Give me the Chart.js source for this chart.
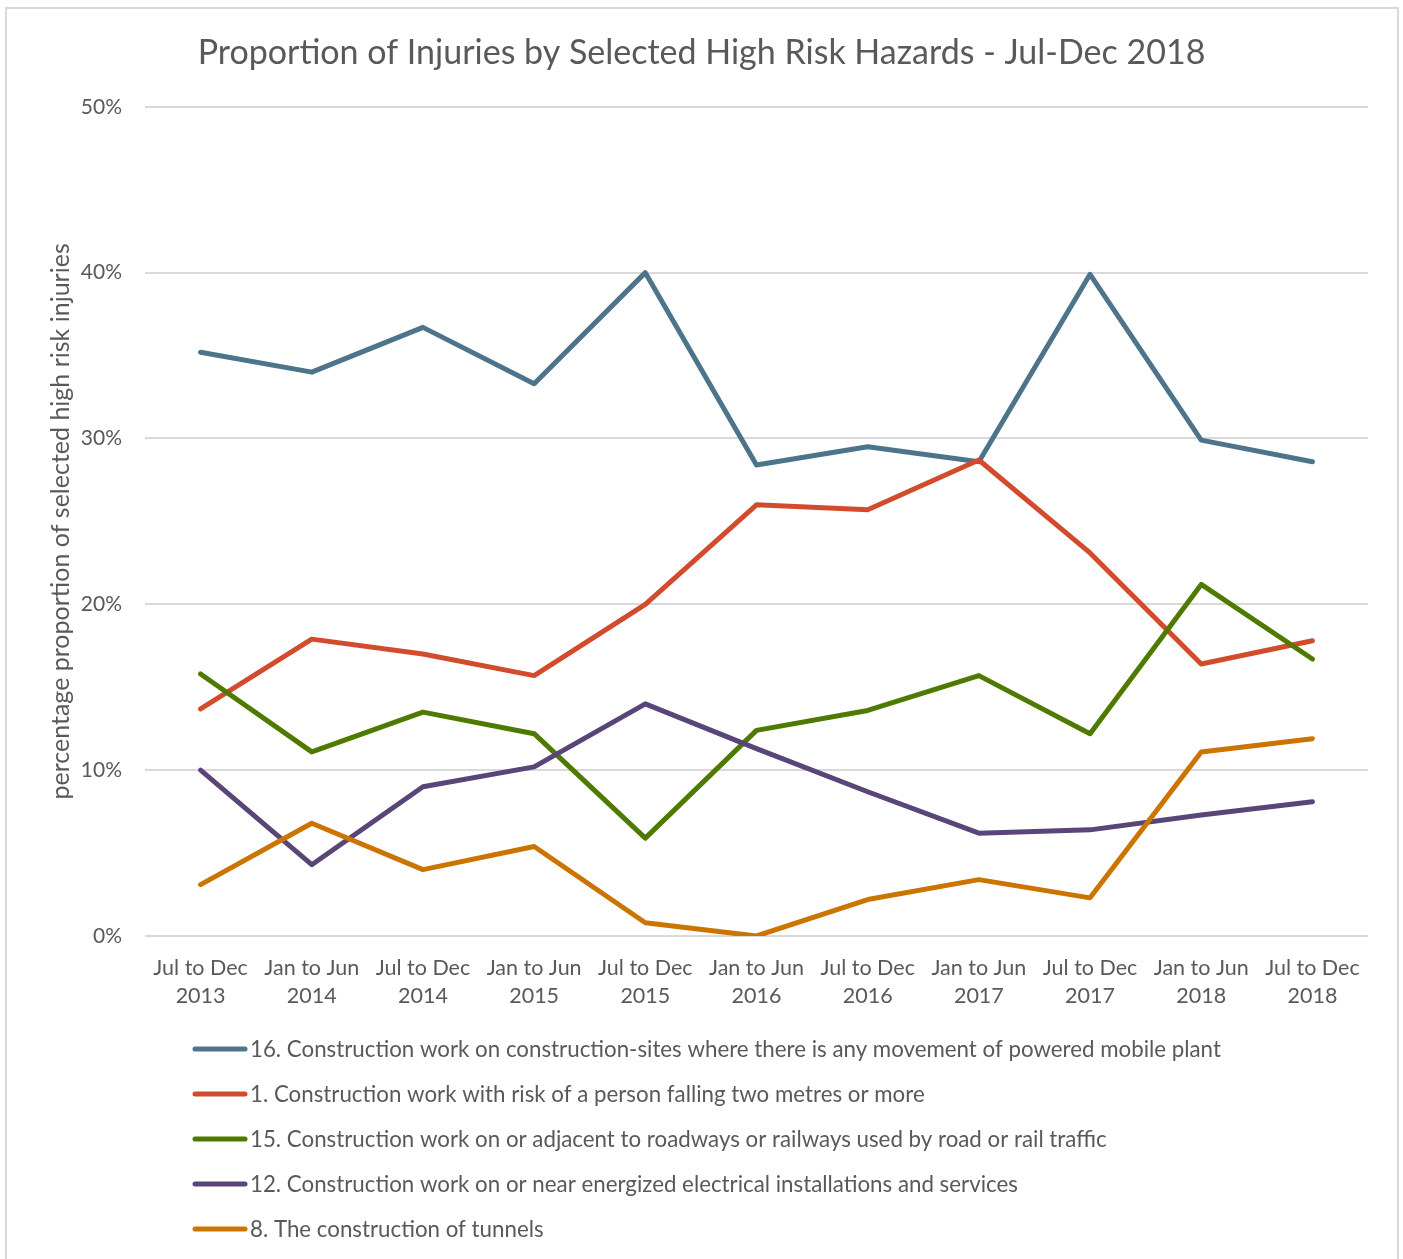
<!DOCTYPE html>
<html><head><meta charset="utf-8">
<script src="https://cdn.jsdelivr.net/npm/chart.js@4.4.0/dist/chart.umd.min.js"></script>
<style>html,body{margin:0;padding:0;background:#fff;overflow:hidden}</style>
</head><body>
<canvas id="c" width="1403" height="1259"></canvas>
<script>
const chartTitle = "Proportion of Injuries by Selected High Risk Hazards - Jul-Dec 2018";
const yAxisTitle = "percentage proportion of selected high risk injuries";
const categories = [
  ["Jul to Dec","2013"],["Jan to Jun","2014"],["Jul to Dec","2014"],["Jan to Jun","2015"],
  ["Jul to Dec","2015"],["Jan to Jun","2016"],["Jul to Dec","2016"],["Jan to Jun","2017"],
  ["Jul to Dec","2017"],["Jan to Jun","2018"],["Jul to Dec","2018"]
];
const yTicks = [0, 10, 20, 30, 40, 50];
const seriesNames = [
  "16. Construction work on construction-sites where there is any movement of powered mobile plant",
  "1. Construction work with risk of a person falling two metres or more",
  "15. Construction work on or adjacent to roadways or railways used by road or rail traffic",
  "12. Construction work on or near energized electrical installations and services",
  "8. The construction of tunnels"
];
const mobilePlant = [35.2, 34.0, 36.7, 33.3, 40.0, 28.4, 29.5, 28.6, 39.9, 29.9, 28.6];
const fallingTwoMetres = [13.7, 17.9, 17.0, 15.7, 20.0, 26.0, 25.7, 28.7, 23.1, 16.4, 17.8];
const roadwaysRailways = [15.8, 11.1, 13.5, 12.2, 5.9, 12.4, 13.6, 15.7, 12.2, 21.2, 16.7];
const electrical = [10.0, 4.3, 9.0, 10.2, 14.0, 11.3, 8.7, 6.2, 6.4, 7.3, 8.1];
const tunnels = [3.1, 6.8, 4.0, 5.4, 0.8, 0.0, 2.2, 3.4, 2.3, 11.1, 11.9];
const seriesColors = ["#4e748b", "#d24b2d", "#4f7a00", "#5a4579", "#cc7400"];

const FONT = "Lato";
const TEXT = "#595959";
const allSeries = [mobilePlant, fallingTwoMetres, roadwaysRailways, electrical, tunnels];

const frame = {
  id: 'frame',
  beforeDraw(chart) {
    const ctx = chart.ctx;
    ctx.save();
    ctx.fillStyle = '#fff';
    ctx.fillRect(0, 0, chart.width, chart.height);
    ctx.strokeStyle = '#d9d9d9';
    ctx.lineWidth = 2;
    ctx.strokeRect(6, 8, 1392, 1300);
    ctx.restore();
  }
};
const listLegend = {
  id: 'listLegend',
  afterDraw(chart) {
    const ctx = chart.ctx;
    const top = chart.chartArea.bottom + 113;
    ctx.save();
    ctx.font = "22.3px " + FONT;
    ctx.textBaseline = 'middle';
    ctx.textAlign = 'left';
    chart.data.datasets.forEach((ds, i) => {
      const y = top + 45 * i;
      ctx.strokeStyle = ds.borderColor;
      ctx.lineWidth = 5;
      ctx.lineCap = 'round';
      ctx.beginPath(); ctx.moveTo(195, y); ctx.lineTo(245, y); ctx.stroke();
      ctx.fillStyle = TEXT;
      ctx.fillText(ds.label, 250, y + 1);
    });
    ctx.restore();
  }
};

new Chart(document.getElementById('c'), {
  type: 'line',
  data: {
    labels: categories,
    datasets: allSeries.map((vals, i) => ({
      label: seriesNames[i],
      data: vals,
      borderColor: seriesColors[i],
      backgroundColor: seriesColors[i],
      borderWidth: 5,
      pointRadius: 0,
      borderCapStyle: 'round',
      borderJoinStyle: 'round',
      tension: 0,
      fill: false,
      order: -i
    }))
  },
  options: {
    responsive: false,
    animation: false,
    events: [],
    layout: { padding: { left: 35, right: 35, top: 0, bottom: 233 } },
    plugins: {
      legend: { display: false },
      tooltip: { enabled: false },
      title: {
        display: true, text: chartTitle, color: TEXT,
        font: { family: FONT, size: 34, weight: 'normal' },
        padding: { top: 33, bottom: 33 }
      }
    },
    scales: {
      x: {
        offset: true,
        grid: { display: false, drawTicks: false },
        border: { display: false },
        ticks: { color: TEXT, font: { family: FONT, size: 21.5, lineHeight: 1.3 }, padding: 18, maxRotation: 0, autoSkip: false },
        afterFit(s) { s.height = 90; }
      },
      y: {
        min: yTicks[0], max: yTicks[yTicks.length - 1],
        afterBuildTicks(s) { s.ticks = yTicks.map(v => ({ value: v })); },
        ticks: { color: TEXT, font: { family: FONT, size: 21 }, padding: 23, callback: v => v + '%' },
        grid: { color: '#d9d9d9', lineWidth: 2, drawTicks: false },
        border: { display: false },
        title: { display: true, text: yAxisTitle, color: TEXT, font: { family: FONT, size: 25, weight: 'normal' }, padding: { top: 11, bottom: 0 } },
        afterFit(s) { s.width = 110; }
      }
    }
  },
  plugins: [frame, listLegend]
});
</script>
</body></html>
